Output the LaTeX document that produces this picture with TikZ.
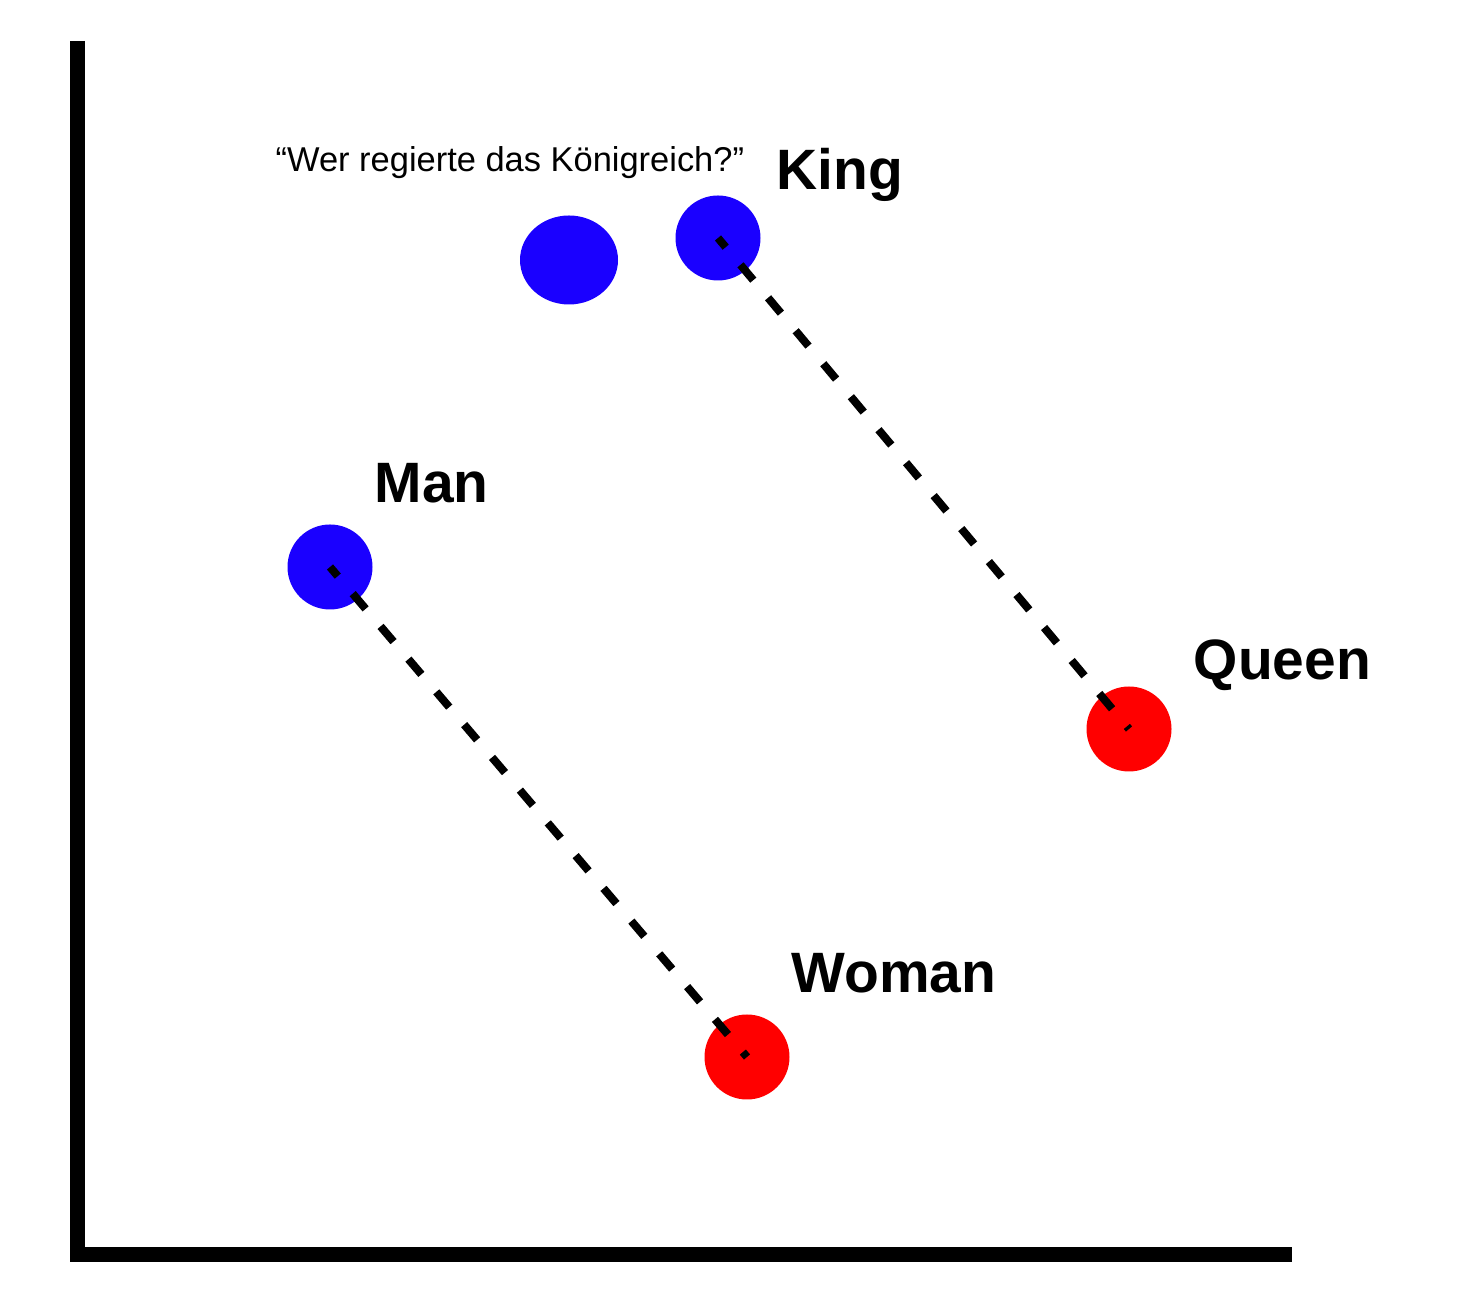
\documentclass[tikz,border=0pt]{standalone}
\usepackage{fontspec}
\setmainfont{Liberation Sans}
\usepackage{xcolor}
\usepackage{tikz}
\usetikzlibrary{arrows,shapes}
\definecolor{dotblue}{RGB}{26,0,255}
\definecolor{dotred}{RGB}{255,0,0}
\tikzset{
	bluedot/.style={circle,fill=dotblue,inner sep=0,minimum size=0.85cm},
	reddot/.style={circle,fill=dotred,inner sep=0,minimum size=0.85cm},
	word/.style={anchor=base west,inner sep=0,font=\fontsize{16.2}{19}\selectfont\bfseries},
	link/.style={line width=0.08cm,dash pattern=on 0.2cm off 0.23cm,dash phase=0.08cm}
}
\begin{document}
\begin{tikzpicture}
	\useasboundingbox (0,0) rectangle (14.72,13.02);
	%
	%  AXES
	%
	\coordinate (top) at (0.775,12.61);
	\coordinate (origin) at (0.775,0.47);
	\coordinate (right) at (12.92,0.47);
	\draw[line width=0.15cm,miter limit=10] (top) -- (origin) -- (right);
	%
	%  POINTS
	%
	\node[bluedot] (king) at (7.18,10.64) {};
	\node[bluedot] (man) at (3.30,7.35) {};
	\node[reddot] (queen) at (11.29,5.73) {};
	\node[reddot] (woman) at (7.47,2.45) {};
	\node[ellipse,fill=dotblue,inner sep=0,minimum width=0.98cm,minimum height=0.89cm] (query) at (5.69,10.42) {};
	%
	%  DIFFERENCES
	%
	\path[link]
	(king.center) edge (queen.center)
	(man.center) edge (woman.center);
	%
	%  LABELS
	%
	\node[word] (kingl) at (7.76,11.12) {King};
	\node[word] (manl) at (3.74,7.99) {Man};
	\node[word] (queenl) at (11.93,6.22) {Queen};
	\node[word] (womanl) at (7.91,3.09) {Woman};
	\node[anchor=base west,inner sep=0,font=\fontsize{9.8}{11}\selectfont] (queryl) at (2.75,11.30) {“Wer regierte das Königreich?”};
\end{tikzpicture}
\end{document}
